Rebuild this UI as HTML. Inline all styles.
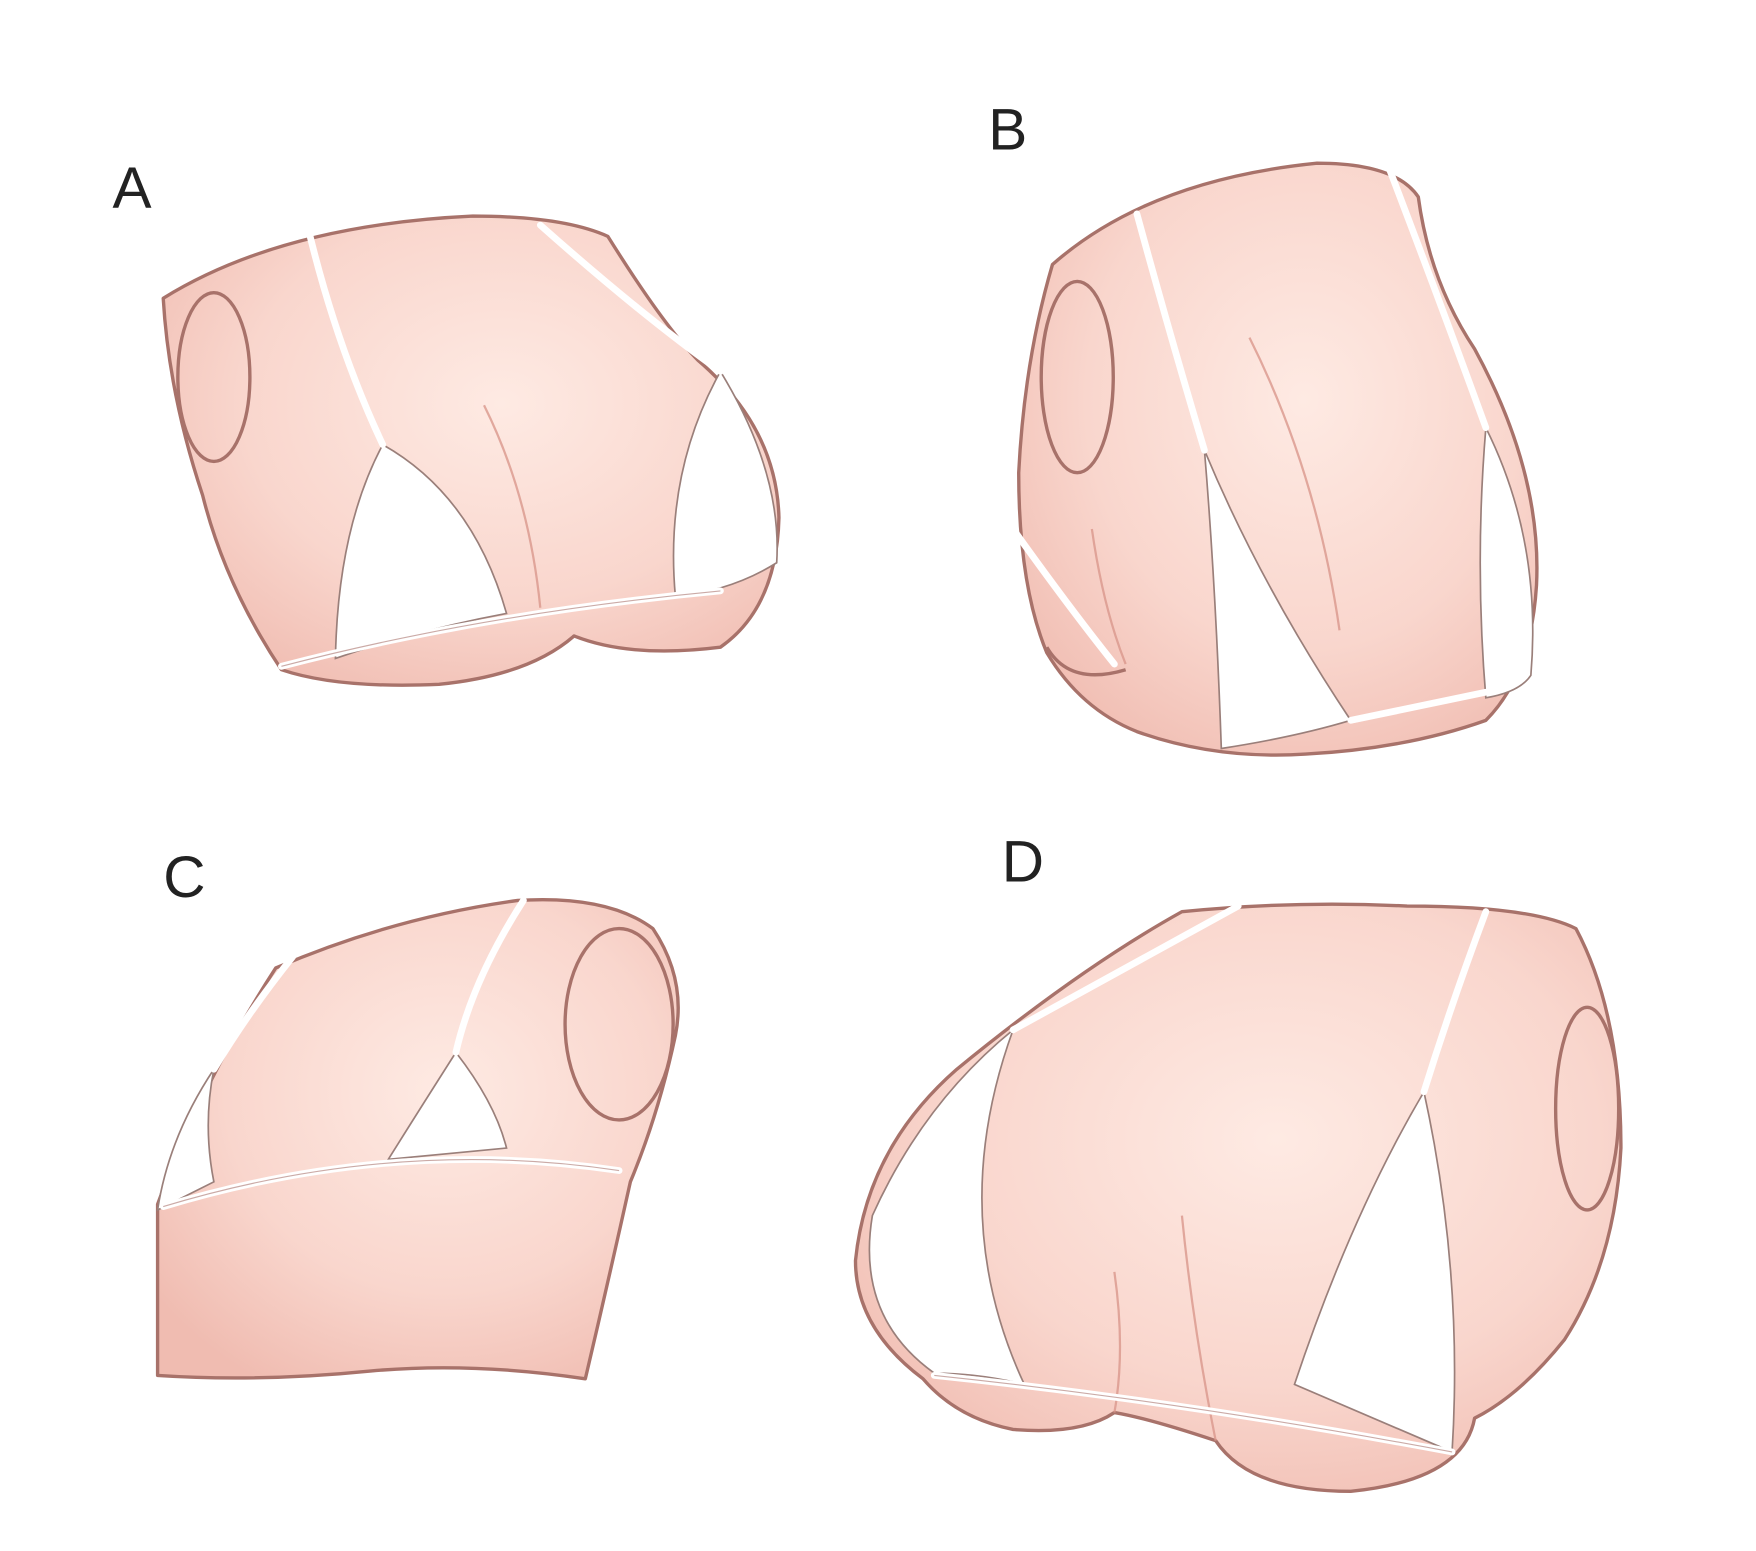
<!DOCTYPE html>
<html><head><meta charset="utf-8"><style>
html,body{margin:0;padding:0;background:#fff;}
svg{display:block;}
text{font-family:"Liberation Sans",sans-serif;fill:#222;}
</style></head><body>
<svg width="1756" height="1551" viewBox="0 0 1560 1378" preserveAspectRatio="none" xmlns="http://www.w3.org/2000/svg">
<defs>
<radialGradient id="sk" cx="0.55" cy="0.4" r="0.7">
<stop offset="0" stop-color="#feeae3"/><stop offset="0.6" stop-color="#f9d6cd"/><stop offset="1" stop-color="#f0bcb1"/>
</radialGradient>
</defs>
<rect width="1560" height="1378" fill="#fff"/>
<g stroke="#a8726a" stroke-width="3" fill="url(#sk)" stroke-linejoin="round">
<!-- A -->
<path d="M145,265 Q250,200 420,192 Q500,192 540,210 Q590,290 620,320 Q690,380 692,460 Q690,540 640,575 Q560,585 510,565 Q470,600 390,608 Q300,612 250,595 Q200,520 180,440 Q150,350 145,265 Z"/>
<ellipse cx="190" cy="335" rx="32" ry="75" fill="none"/>
<!-- B -->
<path d="M935,235 Q1020,160 1170,145 Q1240,145 1260,175 Q1270,250 1310,310 Q1370,420 1365,520 Q1360,600 1320,640 Q1250,665 1160,670 Q1080,675 1010,650 Q960,630 930,580 Q905,520 905,420 Q910,320 935,235 Z"/>
<path d="M930,575 Q950,610 1000,595" fill="none"/>
<ellipse cx="957" cy="335" rx="32" ry="85" fill="none"/>
<!-- C -->
<path d="M245,860 Q350,815 460,800 Q540,795 580,825 Q610,870 600,920 Q585,990 560,1050 Q540,1140 520,1225 Q420,1210 330,1218 Q230,1228 140,1222 L140,1070 Q180,960 245,860 Z"/>
<ellipse cx="550" cy="910" rx="48" ry="85" fill="none"/>
<!-- D -->
<path d="M1050,810 Q1150,800 1250,805 Q1360,805 1400,825 Q1440,900 1440,1020 Q1435,1120 1390,1190 Q1350,1240 1310,1260 Q1300,1315 1200,1325 Q1110,1325 1080,1280 Q1020,1260 990,1255 Q960,1275 900,1270 Q850,1260 820,1225 Q760,1180 760,1120 Q770,1020 850,950 Q960,860 1050,810 Z"/>
<ellipse cx="1410" cy="985" rx="28" ry="90" fill="none"/>
</g>
<g stroke="#d9978c" stroke-width="2" fill="none" opacity="0.8">
<path d="M430,360 Q470,440 480,540"/>
<path d="M1110,300 Q1170,420 1190,560"/>
<path d="M1050,1080 Q1060,1180 1080,1280"/>
<path d="M970,470 Q980,540 1000,590"/>
<path d="M990,1130 Q1000,1200 990,1255"/>
</g>
<g fill="#fff" stroke="#9a7f7a" stroke-width="1.5">
<path d="M340,395 Q300,470 298,585 Q370,560 450,545 Q420,440 340,395 Z"/>
<path d="M640,330 Q590,420 600,530 Q650,525 690,500 Q695,420 640,330 Z"/>
<path d="M1070,400 Q1080,520 1085,665 Q1150,655 1200,640 Q1120,520 1070,400 Z"/>
<path d="M1320,380 Q1310,500 1320,620 Q1350,615 1360,600 Q1370,480 1320,380 Z"/>
<path d="M405,935 Q370,990 345,1030 L450,1020 Q440,980 405,935 Z"/>
<path d="M190,950 Q150,1010 140,1075 L190,1050 Q180,1000 190,950 Z"/>
<path d="M1265,970 Q1200,1080 1150,1230 Q1220,1260 1290,1290 Q1300,1130 1265,970 Z"/>
<path d="M900,915 Q820,980 775,1080 Q760,1170 830,1220 Q870,1220 910,1230 Q840,1080 900,915 Z"/>
</g>
<g stroke="#fff" stroke-width="6" fill="none" stroke-linecap="round">
<path d="M275,208 Q300,310 340,395"/>
<path d="M480,200 Q570,280 640,330"/>
<path d="M250,592 Q430,545 640,525"/>
<path d="M1010,190 Q1040,300 1070,400"/>
<path d="M1235,152 Q1280,270 1320,380"/>
<path d="M1200,640 L1320,615"/>
<path d="M900,470 Q950,540 990,590"/>
<path d="M465,800 Q420,870 405,935"/>
<path d="M260,850 Q220,900 190,950"/>
<path d="M145,1072 Q350,1010 550,1040"/>
<path d="M1320,810 Q1290,890 1265,970"/>
<path d="M1100,805 Q1000,860 900,915"/>
<path d="M830,1222 Q1050,1245 1290,1290"/>
</g>
<g stroke="#a8726a" stroke-width="1" fill="none" opacity="0.6">
<path d="M145,1072 Q350,1010 550,1040"/>
<path d="M250,592 Q430,545 640,525"/>
<path d="M830,1222 Q1050,1245 1290,1290"/>
</g>
<text x="100" y="185" font-size="52">A</text>
<text x="878" y="133" font-size="52">B</text>
<text x="145" y="797" font-size="52">C</text>
<text x="890" y="783" font-size="52">D</text>
</svg>
</body></html>
